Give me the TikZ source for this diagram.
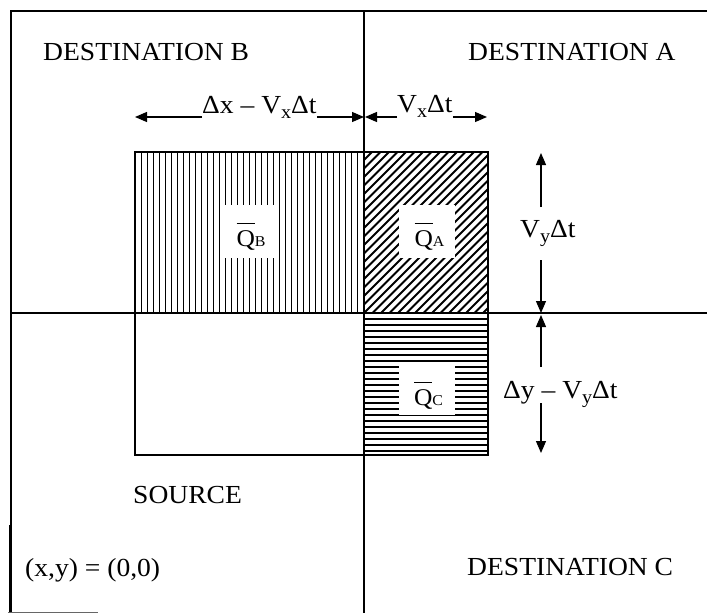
\documentclass[tikz,border=0pt]{standalone}
\usepackage{fontspec}
\setmainfont{Liberation Serif}[FakeStretch=1.06]
\usetikzlibrary{arrows.meta}
\newcommand{\sbx}[1]{\raisebox{-5pt}{\fontsize{19}{19}\selectfont #1}}
\newcommand{\qbar}{\leavevmode\rlap{\raisebox{22pt}{\rule{18pt}{1pt}}}Q}
\newcommand{\qsub}[1]{\raisebox{-0.5pt}{\fontsize{15}{15}\selectfont #1}}
\begin{document}
\begin{tikzpicture}[x=1pt,y=-1pt,
  frame/.style={line width=1.2pt},
  outline/.style={line width=1.5pt},
  arr/.style={line width=1.2pt,-{Triangle[length=12pt,width=10pt]}},
  lbl/.style={inner sep=0pt, anchor=base west, font=\fontsize{26}{30}\selectfont},
  qlab/.style={inner sep=0pt, anchor=base, font=\fontsize{24}{28}\selectfont},
  wbox/.style={fill=white, inner sep=0pt}]
\useasboundingbox[fill=white] (0,0) rectangle (707,613);
% hatching
\begin{scope}
  \clip (135,152) rectangle (364,313);
  \foreach \i in {1,...,38} \draw[line width=1.4pt] (135.5+\i*6,152) -- ++(0,161);
\end{scope}
\begin{scope}
  \clip (364,152) rectangle (488,313);
  \foreach \i in {-20,...,15} \draw[line width=1.8pt] (364+\i*8.5,313) -- ++(161,-161);
\end{scope}
\begin{scope}
  \clip (364,313) rectangle (488,455);
  \foreach \i in {1,...,23} \draw[line width=2pt] (364,313+\i*6) -- ++(124,0);
\end{scope}
% white label backgrounds
\node[wbox, minimum width=58pt, minimum height=53pt] (bgB) at (249,231.5) {};
\node[wbox, minimum width=56pt, minimum height=53pt] (bgA) at (427,231.5) {};
\node[wbox, minimum width=56pt, minimum height=50pt] (bgC) at (427,390) {};
% box outlines
\draw[outline] (135,152) rectangle (364,313);
\draw[outline] (364,152) rectangle (488,313);
\draw[outline] (135,313) rectangle (364,455);
\draw[outline] (364,313) rectangle (488,455);
% frame and axes
\draw[frame] (11,613) -- (11,11) -- (707,11);
\draw[frame] (364,11) -- (364,613);
\draw[frame] (11,313) -- (707,313);
\draw[line width=3.5pt] (10.5,525) -- (10.5,613);
\draw[line width=1pt, black!60] (8,612) -- (98,612);
% labels
\node[lbl] (dB) at (43,60) {DESTINATION B};
\node[lbl] (dA) at (468,60) {DESTINATION A};
\node[lbl] (src) at (133,503) {SOURCE};
\node[lbl] (dC) at (467,575) {DESTINATION C};
\node[lbl] (orig) at (25,576) {(x,y) = (0,0)};
\node[lbl] (dx) at (202,113) {Δx – V\sbx{x}Δt};
\node[lbl] (vx) at (397,112) {V\sbx{x}Δt};
\node[lbl] (vy) at (520,237) {V\sbx{y}Δt};
\node[lbl] (dy) at (503,398) {Δy – V\sbx{y}Δt};
\node[qlab] (qB) at (251,246) {\qbar\qsub{B}};
\node[qlab] (qA) at (429.5,246) {\qbar\qsub{A}};
\node[qlab] (qC) at (428.5,405) {\qbar\qsub{C}};
% dimension arrows
\coordinate (dxL) at (135,117);
\coordinate (dxR) at (364,117);
\coordinate (vxL) at (365,117);
\coordinate (vxR) at (487,117);
\draw[arr] (dx.west |- dxL) -- (dxL);
\draw[arr] (dx.east |- dxR) -- (dxR);
\draw[arr] (vx.west |- vxL) -- (vxL);
\draw[arr] (vx.east |- vxR) -- (vxR);
\coordinate (vyT) at (541,153);
\coordinate (vyT0) at (541,207);
\coordinate (vyB) at (541,313);
\coordinate (vyB0) at (541,260);
\coordinate (dyT) at (541,315);
\coordinate (dyT0) at (541,367);
\coordinate (dyB) at (541,453);
\coordinate (dyB0) at (541,403);
\draw[arr] (vyT0) -- (vyT);
\draw[arr] (vyB0) -- (vyB);
\draw[arr] (dyT0) -- (dyT);
\draw[arr] (dyB0) -- (dyB);
\end{tikzpicture}
\end{document}
